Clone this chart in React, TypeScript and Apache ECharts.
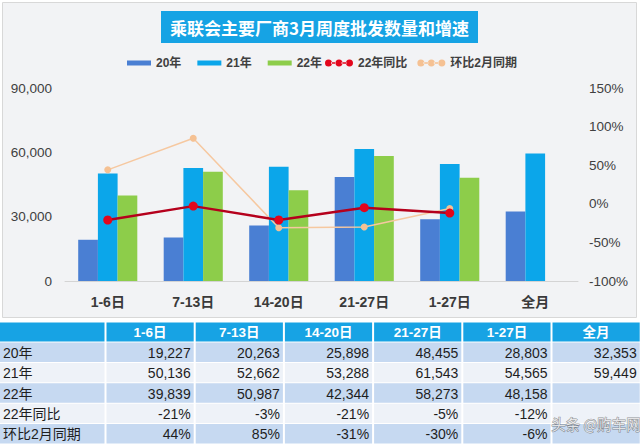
import React, { useEffect, useRef } from "react";
import * as echarts from "echarts";

const title = "乘联会主要厂商3月周度批发数量和增速";
const categories = ["1-6日", "7-13日", "14-20日", "21-27日", "1-27日", "全月"];
const sales2020 = [19227, 20263, 25898, 48455, 28803, 32353];
const sales2021 = [50136, 52662, 53288, 61543, 54565, 59449];
const sales2022: (number | null)[] = [39839, 50987, 42344, 58273, 48158, null];
const yoy2022 = [-21, -3, -21, -5, -12];
const vsFebSamePeriod = [44, 85, -31, -30, -6];
const seriesNames = ["20年", "21年", "22年", "22年同比", "环比2月同期"];
const leftAxisRange = { min: 0, max: 90000, interval: 30000 };
const rightAxisRange = { min: -100, max: 150, interval: 50 };
const watermark = "头条 @购车网";

const FONT = "'Liberation Sans', Arial, 'Noto Sans CJK SC', sans-serif";
const CJK = "'Noto Sans CJK SC', sans-serif";

const fmtNum = (v: number | null | undefined) =>
  v == null ? "" : v.toLocaleString("en-US");
const fmtPct = (v: number | null | undefined) => (v == null ? "" : `${v}%`);

const dotsIcon =
  "path://M0,3.5a3.5,3.5 0 1,0 7,0a3.5,3.5 0 1,0 -7,0zM10.5,3.5a3.5,3.5 0 1,0 7,0a3.5,3.5 0 1,0 -7,0zM21,3.5a3.5,3.5 0 1,0 7,0a3.5,3.5 0 1,0 -7,0zM6,2.7h5v1.6h-5zM16.5,2.7h5v1.6h-5z";

function buildTable(): any[] {
  const els: any[] = [];
  const col0W = 104.5;
  const colX0 = 106.5;
  const colStride = 89.2;
  const colW = 87.2;
  const headerY = 322.5;
  const headerH = 19;
  const rowY0 = 342.5;
  const rowStride = 20.4;
  const rowH = 19.4;
  const headBg = "#17a3e4";
  const rowBgs = ["#c6d9f1", "#eef2f8"];
  const rows: string[][] = [
    sales2020.map(fmtNum),
    sales2021.map(fmtNum),
    sales2022.map(fmtNum),
    categories.map((_, i) => fmtPct(yoy2022[i])),
    categories.map((_, i) => fmtPct(vsFebSamePeriod[i])),
  ];
  els.push({
    type: "rect",
    shape: { x: 0, y: headerY, width: col0W, height: headerH },
    style: { fill: headBg },
  });
  categories.forEach((c, i) => {
    const x = colX0 + i * colStride;
    els.push({
      type: "rect",
      shape: { x, y: headerY, width: colW, height: headerH },
      style: { fill: headBg },
    });
    els.push({
      type: "text",
      x: x + colW / 2,
      y: headerY + headerH / 2 + 0.5,
      style: {
        text: c,
        fill: "#ffffff",
        font: `bold 13.5px ${FONT}`,
        align: "center",
        verticalAlign: "middle",
      },
    });
  });
  rows.forEach((cells, r) => {
    const y = rowY0 + r * rowStride;
    const bg = rowBgs[r % 2];
    els.push({
      type: "rect",
      shape: { x: 0, y, width: col0W, height: rowH },
      style: { fill: bg },
    });
    els.push({
      type: "text",
      x: 3,
      y: y + rowH / 2 + 0.5,
      style: {
        text: seriesNames[r],
        fill: "#1e1e1e",
        font: `14px ${FONT}`,
        align: "left",
        verticalAlign: "middle",
      },
    });
    cells.forEach((t, i) => {
      const x = colX0 + i * colStride;
      els.push({
        type: "rect",
        shape: { x, y, width: colW, height: rowH },
        style: { fill: bg },
      });
      els.push({
        type: "text",
        x: x + colW - 3,
        y: y + rowH / 2 + 0.5,
        style: {
          text: t,
          fill: "#1e1e1e",
          font: `14px ${FONT}`,
          align: "right",
          verticalAlign: "middle",
        },
      });
    });
  });
  return els;
}

export default function App() {
  const ref = useRef<HTMLDivElement>(null);
  useEffect(() => {
    if (!ref.current) return;
    const chart = echarts.init(ref.current, null, { renderer: "svg" });
    const option: any = {
      animation: false,
      backgroundColor: "#ffffff",
      textStyle: { fontFamily: FONT },
      grid: { left: 65, right: 62, top: 88, bottom: 163, containLabel: false },
      legend: [
        {
          data: seriesNames.slice(0, 3),
          left: 122,
          top: 52,
          icon: "rect",
          itemWidth: 24,
          itemHeight: 5,
          itemGap: 16,
          textStyle: { color: "#404040", fontSize: 12, fontWeight: "bold", fontFamily: FONT },
        },
        {
          data: seriesNames.slice(3).map((n) => ({ name: n, icon: dotsIcon })),
          left: 320,
          top: 52,
          itemWidth: 28,
          itemHeight: 7,
          itemGap: 10,
          textStyle: { color: "#404040", fontSize: 12, fontWeight: "bold", fontFamily: FONT },
        },
      ],
      xAxis: {
        type: "category",
        data: categories,
        axisLine: { show: true, lineStyle: { color: "#d4d4d4", width: 1 } },
        axisTick: { show: false },
        axisLabel: {
          color: "#3a3a3a",
          fontSize: 14,
          fontWeight: "bold",
          margin: 14,
          fontFamily: FONT,
        },
      },
      yAxis: [
        {
          type: "value",
          ...leftAxisRange,
          splitLine: { show: false },
          axisLine: { show: false },
          axisTick: { show: false },
          axisLabel: {
            color: "#404040",
            fontSize: 13.5,
            margin: 13,
            fontFamily: FONT,
            formatter: (v: number) => v.toLocaleString("en-US"),
          },
        },
        {
          type: "value",
          ...rightAxisRange,
          splitLine: { show: false },
          axisLine: { show: false },
          axisTick: { show: false },
          axisLabel: {
            color: "#404040",
            fontSize: 13.5,
            margin: 11,
            fontFamily: FONT,
            formatter: "{value}%",
          },
        },
      ],
      series: [
        {
          name: seriesNames[0],
          type: "bar",
          data: sales2020,
          barWidth: 19.7,
          barGap: "0%",
          itemStyle: { color: "#4a7fd3" },
        },
        {
          name: seriesNames[1],
          type: "bar",
          data: sales2021,
          barWidth: 19.7,
          barGap: "0%",
          itemStyle: { color: "#0ba6ea" },
        },
        {
          name: seriesNames[2],
          type: "bar",
          data: sales2022,
          barWidth: 19.7,
          barGap: "0%",
          itemStyle: { color: "#8dcd4a" },
        },
        {
          name: seriesNames[3],
          type: "line",
          yAxisIndex: 1,
          data: yoy2022,
          z: 6,
          symbol: "circle",
          symbolSize: 9,
          lineStyle: { color: "#b5001c", width: 2.5 },
          itemStyle: { color: "#e3061c" },
        },
        {
          name: seriesNames[4],
          type: "line",
          yAxisIndex: 1,
          data: vsFebSamePeriod,
          z: 5,
          symbol: "circle",
          symbolSize: 7,
          lineStyle: { color: "#f6c8a0", width: 1.5 },
          itemStyle: { color: "#f5c193" },
        },
      ],
      graphic: [
        {
          type: "rect",
          z: -10,
          shape: { x: 2.5, y: 2.5, width: 634, height: 315 },
          style: { fill: "#f2f3f5", stroke: "#d8d8d8", lineWidth: 1 },
        },
        {
          type: "rect",
          shape: { x: 161, y: 11, width: 317, height: 32 },
          style: { fill: "#16a3e4" },
        },
        {
          type: "text",
          x: 319.5,
          y: 27.5,
          style: {
            text: title,
            fill: "#ffffff",
            font: `bold 17px ${CJK}`,
            align: "center",
            verticalAlign: "middle",
          },
        },
        ...buildTable(),
        {
          type: "text",
          x: 596,
          y: 423,
          z: 20,
          style: {
            text: watermark,
            fill: "rgba(255,255,255,0.8)",
            stroke: "rgba(70,70,70,0.6)",
            lineWidth: 1,
            font: `14.5px ${CJK}`,
            align: "center",
            verticalAlign: "middle",
          },
        },
      ],
    };
    chart.setOption(option);
    return () => chart.dispose();
  }, []);
  return (
    <div
      ref={ref}
      style={{ position: "fixed", left: 0, top: 0, width: 640, height: 444 }}
    />
  );
}
